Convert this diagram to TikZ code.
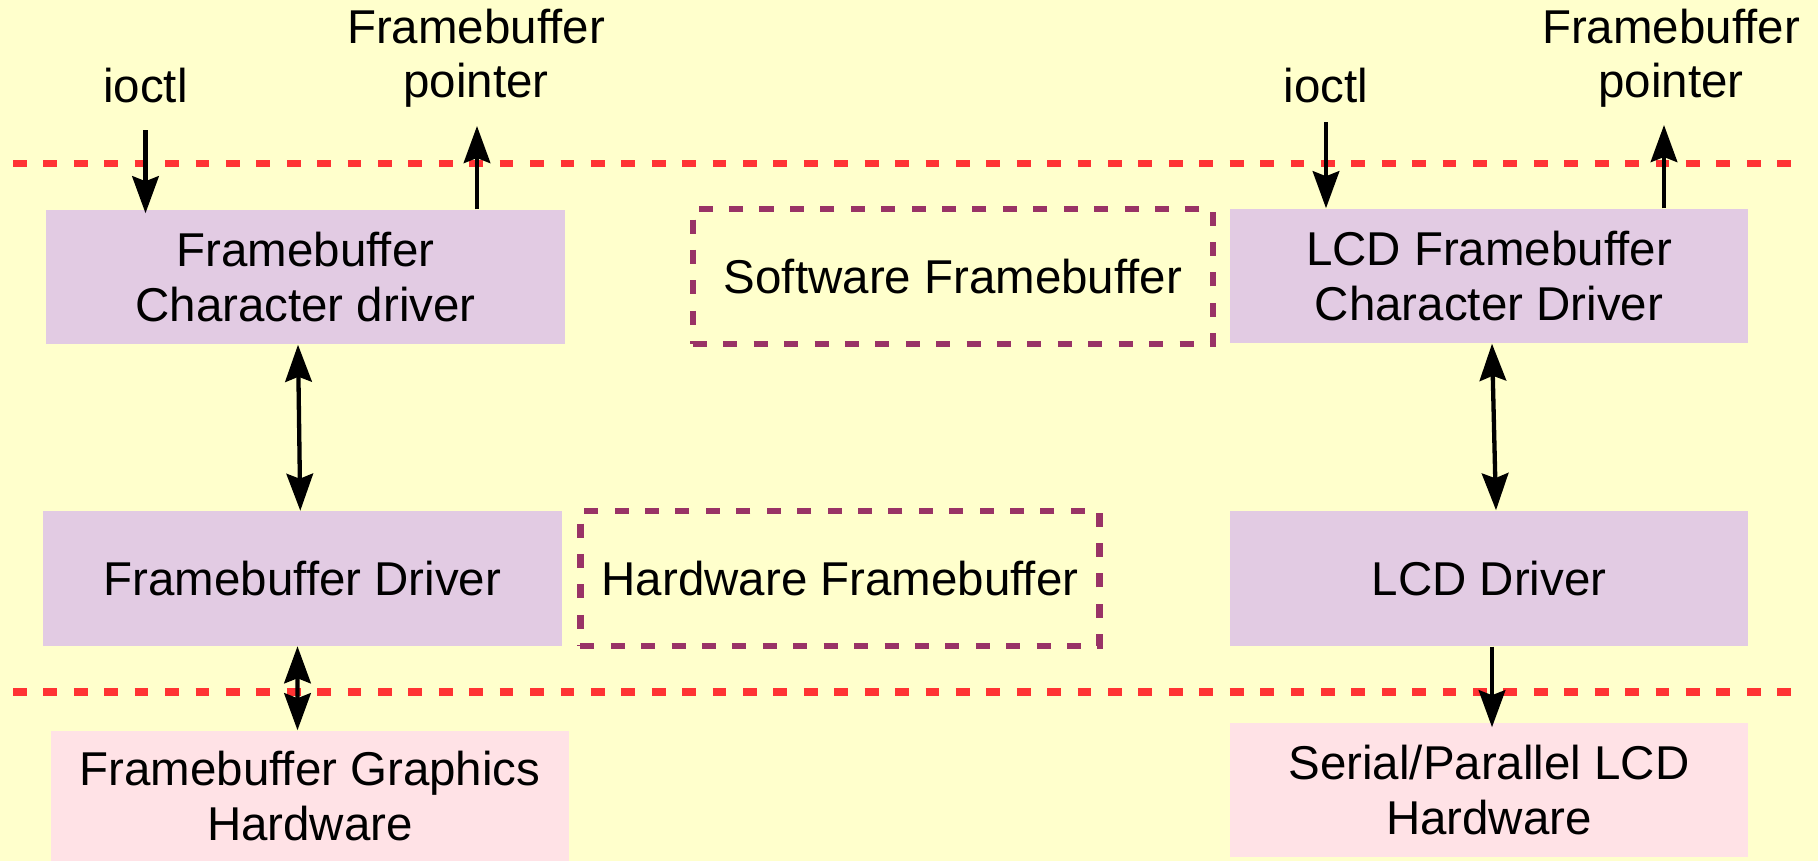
\documentclass[tikz,border=0pt]{standalone}
\usepackage{fontspec}
\setmainfont{Liberation Sans}
\usetikzlibrary{arrows.meta}
\definecolor{bgyellow}{RGB}{255,255,204}
\definecolor{lavender}{RGB}{226,203,227}
\definecolor{blush}{RGB}{255,226,230}
\definecolor{layerred}{RGB}{255,51,51}
\definecolor{plum}{RGB}{153,51,102}
\begin{document}
\begin{tikzpicture}[x=0.01cm, y=-0.01cm,
  txt/.style={font=\fontsize{13.5}{15.4}\selectfont, align=center, inner sep=0pt},
  drvbox/.style={txt, rectangle, fill=lavender, minimum width=5.19cm, minimum height=1.34cm},
  hwbox/.style={txt, rectangle, fill=blush, minimum width=5.18cm, minimum height=1.34cm},
  fbbox/.style={txt, rectangle, draw=plum, line width=0.065cm, dash pattern=on 0.14cm off 0.164cm, minimum width=5.19cm, minimum height=1.35cm},
  layer/.style={draw=layerred, line width=0.07cm, dash pattern=on 0.138cm off 0.166cm},
  tip/.tip={Stealth[length=0.37cm, width=0.265cm, inset=0.05cm]},
  flow/.style={line width=0.043cm, -tip},
  both/.style={line width=0.043cm, tip-tip},
]
% canvas
\fill[bgyellow] (0,0) rectangle (1818,861);
\useasboundingbox (0,0) rectangle (1818,861);

% layer boundaries
\coordinate (topL) at (13,163.5);
\coordinate (topR) at (1791,163.5);
\coordinate (botL) at (13,692);
\coordinate (botR) at (1791,692);
\draw[layer] (topL) -- (topR);
\draw[layer] (botL) -- (botR);

% left stack
\node[drvbox] (cdrv) at (305.5,277) {Framebuffer\\Character driver};
\node[drvbox] (fbdrv) at (302.5,578.5) {Framebuffer Driver};
\node[hwbox, minimum height=1.30cm] (fbhw) at (310,796) {Framebuffer Graphics\\Hardware};

% memory regions
\node[fbbox, minimum width=5.20cm] (swfb) at (953,276.5) {Software Framebuffer};
\node[fbbox] (hwfb) at (840,578.5) {Hardware Framebuffer};

% right stack
\node[drvbox, minimum width=5.18cm] (lcdchr) at (1489,276) {LCD Framebuffer\\Character Driver};
\node[drvbox, minimum width=5.18cm, minimum height=1.35cm] (lcddrv) at (1489,578.5) {LCD Driver};
\node[hwbox] (lcdhw) at (1489,790) {Serial/Parallel LCD\\Hardware};

% user-space interface labels
\node[txt, anchor=base] (ioctlL) at (145.5,103) {ioctl};
\node[txt, anchor=south] (fbptrL) at (476,108) {Framebuffer\\pointer};
\node[txt, anchor=base] (ioctlR) at (1326,103) {ioctl};
\node[txt, anchor=south] (fbptrR) at (1671,108) {Framebuffer\\pointer};

% connectors
\draw[flow, shorten >=-0.04cm] ([yshift=-0.27cm]ioctlL.base) -- (ioctlL.base |- cdrv.north);
\draw[flow] ([xshift=0.01cm]fbptrL.south |- cdrv.north) -- ([xshift=0.01cm, yshift=-0.18cm]fbptrL.south);
\draw[both] ([xshift=-0.075cm]cdrv.south) -- ([xshift=-0.022cm]fbdrv.north);
\draw[both] ([xshift=-0.05cm]fbdrv.south) -- ([xshift=-0.125cm]fbhw.north);

\draw[flow] ([yshift=-0.19cm]ioctlR.base) -- (ioctlR.base |- lcdchr.north);
\draw[flow] ([xshift=-0.07cm]fbptrR.south |- lcdchr.north) -- ([xshift=-0.07cm, yshift=-0.17cm]fbptrR.south);
\draw[both] ([xshift=0.03cm]lcdchr.south) -- ([xshift=0.07cm]lcddrv.north);
\draw[flow, shorten >=-0.05cm] ([xshift=0.03cm]lcddrv.south) -- ([xshift=0.03cm]lcdhw.north);
\end{tikzpicture}
\end{document}
